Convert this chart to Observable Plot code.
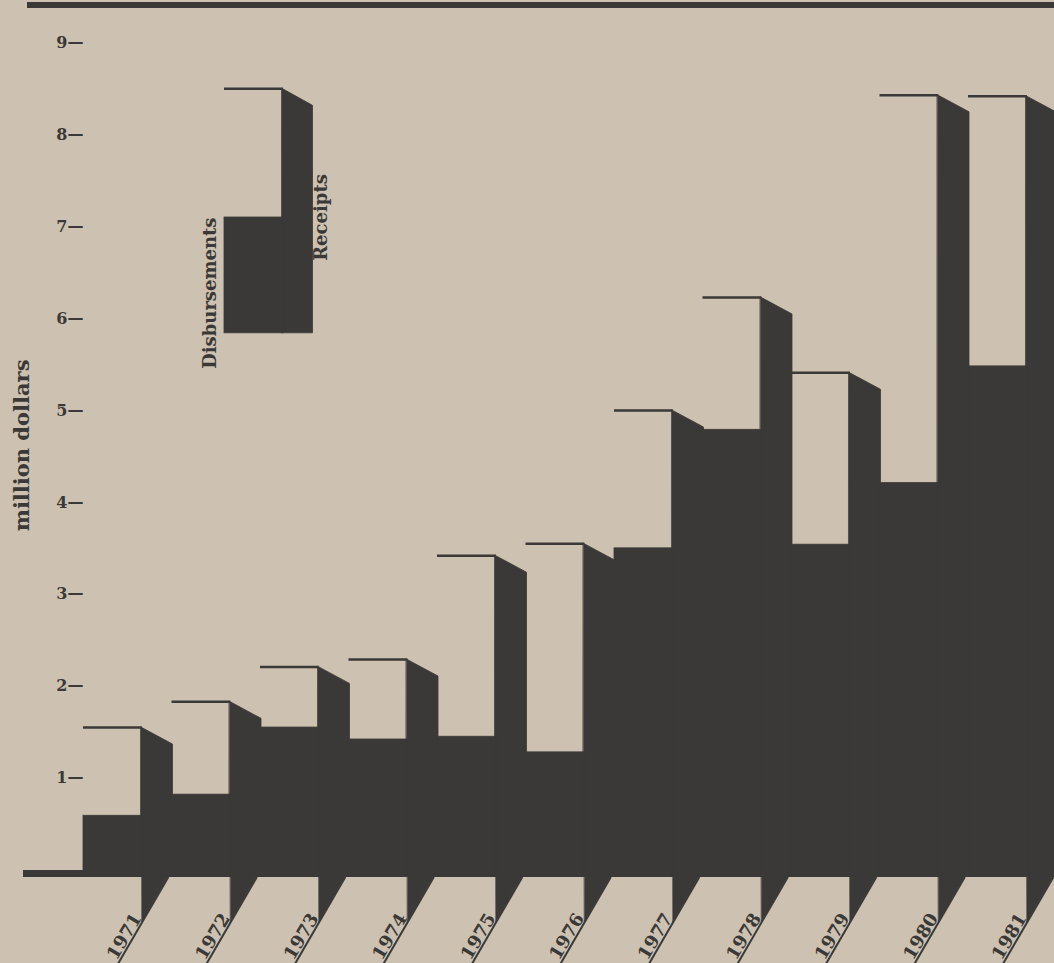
<!DOCTYPE html>
<html>
<head>
<meta charset="utf-8">
<script src="https://cdn.jsdelivr.net/npm/d3@7"></script>
<script src="https://cdn.jsdelivr.net/npm/@observablehq/plot@0.6"></script>
<style>
  html, body { margin: 0; padding: 0; background: #cdc1b1; }
  #wrap { position: relative; width: 1054px; height: 963px; overflow: hidden; }
  #rule { position: absolute; left: 27px; right: 0; top: 2px; height: 6px; background: #3b3937; z-index: 2; }
  #wrap svg { display: block; position: absolute; left: 0; top: 0; }
</style>
</head>
<body>
<div id="wrap"><div id="rule"></div></div>
<script>
// ---------- data (million dollars) ----------
const years = [1971, 1972, 1973, 1974, 1975, 1976, 1977, 1978, 1979, 1980, 1981];
const receipts      = [1.55, 1.83, 2.21, 2.29, 3.42, 3.55, 5.00, 6.23, 5.41, 8.43, 8.42];
const disbursements = [0.59, 0.82, 1.55, 1.42, 1.45, 1.28, 3.50, 4.79, 3.54, 4.21, 5.48];
const yTicks = [1, 2, 3, 4, 5, 6, 7, 8, 9];
const yTitle = "million dollars";
// legend sample bar
const legendReceipts = 8.5;
const legendDisbursements = 7.1;
const legendFloor = 5.84;
const legendLabels = ["Disbursements", "Receipts"];

// ---------- layout ----------
const W = 1054, H = 963;
const X0 = 83, XS = 88.5;     // px of first year, px per year
const Y0 = 869.5, YS = 91.9;  // px of zero, px per million
const pxX = p => p / XS, pxY = p => p / YS;
const FACE = 0.665;           // face width as fraction of a year band
const DROP = pxY(17);         // slant of the shadow top
const base = -pxY(7);         // bottom of the dark band under the zero line
const legendAt = years[0] + (224 - X0) / XS;
const titleAt = 4.62;
const INK = "#3b3937", PAPER = "#cdc1b1";
const FONT = "'DejaVu Serif', serif";

const rows = years.map((year, i) => ({year, r: receipts[i], d: disbursements[i]}));

const shadowData = rows.flatMap(o => [
  {k: o.year, x: o.year + FACE - pxX(1), top: o.r, bottom: base},
  {k: o.year, x: o.year + 1 + pxX(1), top: o.r - DROP, bottom: base}
]);
const wedgeData = rows.flatMap(o => [
  {k: o.year, x: o.year + FACE, y1: base - pxY(45), y2: base + pxY(2)},
  {k: o.year, x: o.year + FACE + pxX(26), y1: base, y2: base + pxY(2)}
]);
const legendShadow = [
  {x: legendAt + FACE - pxX(1), top: legendReceipts, bottom: legendFloor},
  {x: legendAt + 1, top: legendReceipts - DROP, bottom: legendFloor}
];

const plot = Plot.plot({
  width: W,
  height: H,
  marginLeft: 23,
  marginRight: 0,
  marginTop: Y0 - 9 * YS,
  marginBottom: H - Y0,
  x: {type: "linear", domain: [years[0] - (X0 - 23) / XS, years[0] + (W - X0) / XS], axis: null},
  y: {domain: [0, 9], axis: null},
  style: {background: PAPER, fontFamily: FONT, color: INK},
  marks: [
    // zero line / dark band
    Plot.ruleY([0], {stroke: INK, strokeWidth: 7, dy: 3.5}),
    // receipts side shadows
    Plot.areaY(shadowData, {x: "x", y1: "bottom", y2: "top", z: "k", fill: INK, stroke: INK, strokeWidth: 0.8}),
    // disbursements fill in each face
    Plot.rect(rows, {x1: d => d.year, x2: d => d.year + FACE, y1: () => base, y2: "d", fill: INK, stroke: INK, strokeWidth: 0.8}),
    // receipts top lines
    Plot.ruleY(rows, {y: "r", x1: d => d.year, x2: d => d.year + FACE, stroke: INK, strokeWidth: 2.5}),
    // floor wedges under baseline
    Plot.areaY(wedgeData, {x: "x", y1: "y1", y2: "y2", z: "k", fill: INK, stroke: INK, strokeWidth: 0.6}),
    Plot.link(rows, {
      x1: d => d.year + FACE + pxX(26), y1: () => base,
      x2: d => d.year + FACE + pxX(26 - 0.58 * 120), y2: () => base - pxY(120),
      stroke: INK, strokeWidth: 2
    }),
    // year labels
    Plot.text(rows, {
      x: d => d.year + FACE + pxX(26 - 0.58 * 42), y: () => base - pxY(42),
      text: d => String(d.year), rotate: -59, textAnchor: "end", lineAnchor: "bottom",
      dx: -1.7, dy: -1, fill: INK, fontSize: 18, fontWeight: "bold", fontFamily: FONT, letterSpacing: 1.5
    }),
    // y tick labels
    Plot.text(yTicks, {
      x: () => years[0], y: d => d, text: d => `${d}—`, textAnchor: "end",
      fill: INK, fontSize: 16, fontWeight: "bold", fontFamily: FONT
    }),
    // y title
    Plot.text([yTitle], {
      frameAnchor: "left", y: () => titleAt, text: d => d, rotate: -90, dx: -1,
      textAnchor: "middle", lineAnchor: "middle",
      fill: INK, fontSize: 21, fontWeight: "bold", fontFamily: FONT, letterSpacing: 0.6
    }),
    // legend
    Plot.areaY(legendShadow, {x: "x", y1: "bottom", y2: "top", fill: INK, stroke: INK, strokeWidth: 0.8}),
    Plot.rect([0], {x1: () => legendAt, x2: () => legendAt + FACE, y1: () => legendFloor, y2: () => legendDisbursements, fill: INK, stroke: INK, strokeWidth: 0.8}),
    Plot.ruleY([legendReceipts], {x1: () => legendAt, x2: () => legendAt + FACE, stroke: INK, strokeWidth: 2.5}),
    Plot.text([legendLabels[0]], {
      x: () => legendAt - pxX(9), y: () => legendDisbursements, text: d => d,
      rotate: -90, textAnchor: "end", lineAnchor: "bottom",
      fill: INK, fontSize: 18, fontWeight: "bold", fontFamily: FONT
    }),
    Plot.text([legendLabels[1]], {
      x: () => legendAt + 1 + pxX(14), y: () => legendDisbursements, text: d => d,
      rotate: -90, textAnchor: "middle", lineAnchor: "bottom",
      fill: INK, fontSize: 18, fontWeight: "bold", fontFamily: FONT
    })
  ]
});
document.getElementById("wrap").insertBefore(plot, document.getElementById("rule"));
</script>
</body>
</html>
